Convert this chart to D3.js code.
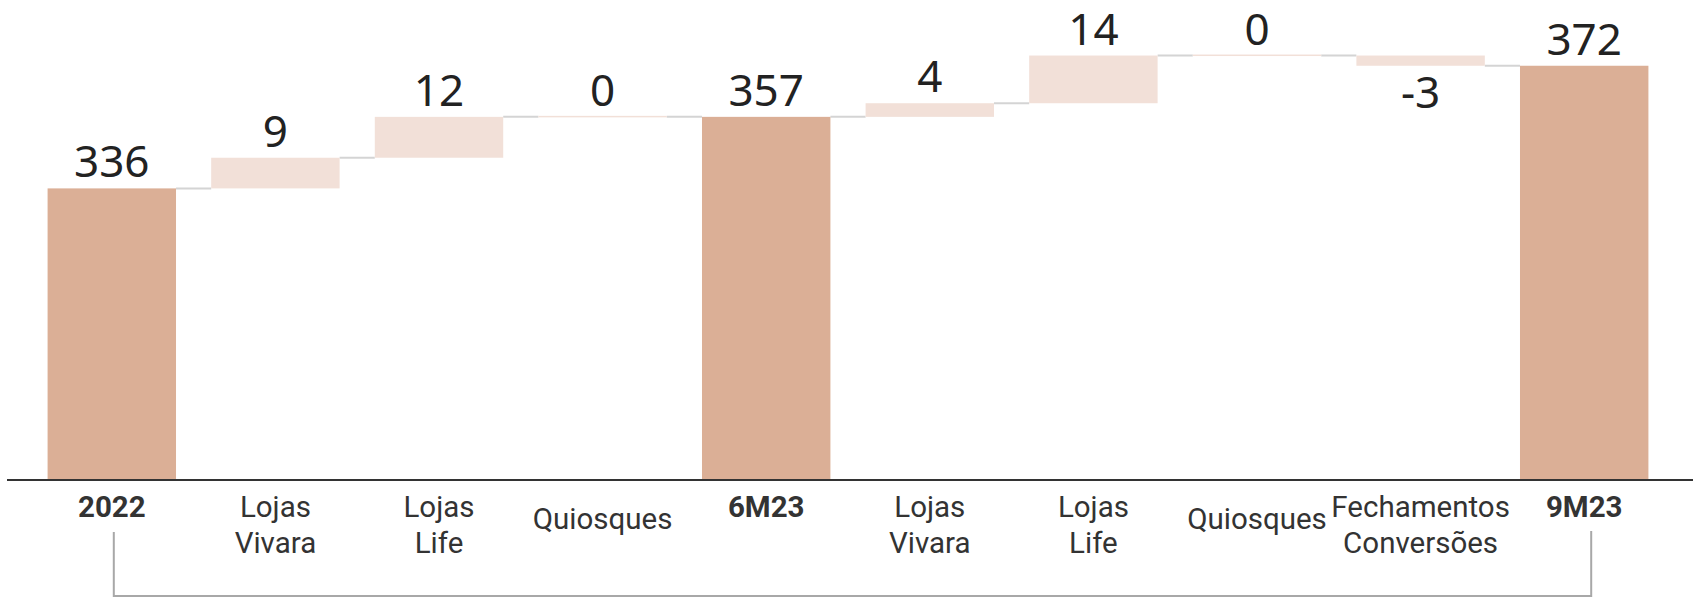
<!DOCTYPE html>
<meta charset="utf-8">
<head>
    <title>Waterfall lojas</title>
    <script src="https://d3js.org/d3.v7.min.js"></script>
</head>

<style>
body { margin: 0; background: #fff; }
.value { font-family: "Noto Sans", "Open Sans", sans-serif; font-size: 44px; fill: #222; }
.cat { font-family: Roboto, sans-serif; font-size: 29.5px; fill: #333; }
.cat.total { font-weight: bold; }
</style>

<body>
<svg></svg>

<script>

// categories as they sit on the x axis (line breaks as in the picture)
let labelLines = [
  ["2022"], ["Lojas", "Vivara"], ["Lojas", "Life"], ["Quiosques"], ["6M23"],
  ["Lojas", "Vivara"], ["Lojas", "Life"], ["Quiosques"], ["Fechamentos", "Conversões"], ["9M23"]
];
let values = [336, 9, 12, 0, 357, 4, 14, 0, -3, 372];
let isTotal = [true, false, false, false, true, false, false, false, false, true];

let width = 1693, height = 602;
let baseY = 479;

// build running totals
let running = 0;
let data = values.map(function(v, i) {
  let d = {i: i, v: v, total: isTotal[i], lines: labelLines[i]};
  if (d.total) {
    d.start = null; d.end = v; running = v;
  } else {
    d.start = running; d.end = running + v; running = d.end;
  }
  return d;
});

let x = d3.scaleBand()
  .domain(data.map(d => d.i))
  .range([30, 1666])
  .paddingInner(0.215)
  .paddingOuter(0.1075);

// value axis does not start at zero in the original
let y = d3.scaleLinear()
  .domain([250.7, 391.3])
  .range([baseY, 0]);

let svg = d3.select("svg")
  .attr("width", width)
  .attr("height", height);

svg.append("rect").attr("width", width).attr("height", height).attr("fill", "#fff");

// connector lines between bars
let links = data.slice(0, -1);
svg.selectAll(".link")
  .data(links)
  .enter()
  .append("line")
  .attr("x1", d => x(d.i) + x.bandwidth())
  .attr("x2", d => x(d.i + 1))
  .attr("y1", d => y(d.end))
  .attr("y2", d => y(d.end))
  .attr("stroke", "#d4d4d4")
  .attr("stroke-width", 2);

// bars
svg.selectAll(".bar")
  .data(data)
  .enter()
  .append("rect")
  .attr("class", "bar")
  .attr("x", d => x(d.i))
  .attr("width", x.bandwidth())
  .attr("y", function(d) {
    if (d.total) return y(d.end);
    return Math.min(y(d.start), y(d.end)) - (d.v === 0 ? 1 : 0);
  })
  .attr("height", function(d) {
    if (d.total) return baseY - y(d.end);
    return Math.max(1.5, Math.abs(y(d.start) - y(d.end)));
  })
  .attr("fill", d => d.total ? "#dbaf96" : "#f2e0d8");

// value labels
svg.selectAll(".value")
  .data(data)
  .enter()
  .append("text")
  .attr("class", "value")
  .attr("text-anchor", "middle")
  .attr("x", d => x(d.i) + x.bandwidth() / 2)
  .attr("y", function(d) {
    if (d.v < 0) return y(d.start) + 52;
    return y(d.end) - 11;
  })
  .text(d => d.v);

// x axis: library axis without ticks, labels rewritten as tspans
let xAxis = svg.append("g")
  .attr("transform", "translate(0," + baseY + ")")
  .call(d3.axisBottom(x).tickSize(0).tickFormat(""));
xAxis.select(".domain").remove();

svg.append("line")
  .attr("x1", 7).attr("x2", width)
  .attr("y1", baseY + 1).attr("y2", baseY + 1)
  .attr("stroke", "#333")
  .attr("stroke-width", 2);

xAxis.selectAll(".tick text").each(function(i) {
  let d = data[i];
  let t = d3.select(this)
    .attr("class", d.total ? "cat total" : "cat")
    .attr("text-anchor", "middle")
    .attr("fill", null)
    .attr("dy", null)
    .attr("y", 0);
  let first = d.lines.length === 1 && !d.total ? 50 : 38;
  d.lines.forEach(function(line, k) {
    t.append("tspan")
      .attr("x", 0)
      .attr("y", first + k * 36)
      .text(line);
  });
});

// bracket from first to last total
let xa = x(0) + x.bandwidth() / 2 + 2;
let xb = x(data.length - 1) + x.bandwidth() / 2 + 7;
svg.append("path")
  .attr("d", "M" + xa + ",532 V596 H" + xb + " V531")
  .attr("fill", "none")
  .attr("stroke", "#a8a8a8")
  .attr("stroke-width", 2);

</script>

</body>
